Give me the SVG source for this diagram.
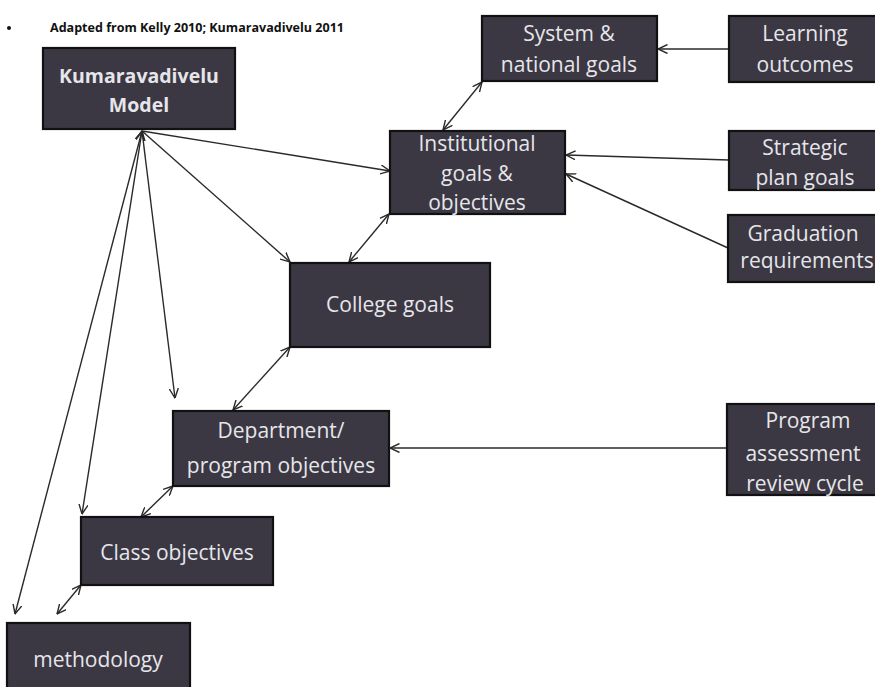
<svg xmlns="http://www.w3.org/2000/svg" width="875" height="687" viewBox="0 0 875 687">
<defs>
<marker id="ah" viewBox="0 0 10 10" refX="9.5" refY="5" markerWidth="10" markerHeight="10" markerUnits="userSpaceOnUse" orient="auto-start-reverse">
<path d="M0,0.5 L9.5,5 L0,9.5" fill="none" stroke="#2a2a2a" stroke-width="1.4"/>
</marker>
<style>
.box{fill:#3b3843;stroke:#111;stroke-width:2.2}
.t{font-family:"Open Sans","Liberation Sans",sans-serif;font-size:21px;fill:#e6e6ea;text-anchor:middle}
.tb{font-weight:bold;font-size:19.5px}
.c line{stroke:#2a2a2a;stroke-width:1.4;fill:none}
</style>
</defs>
<rect width="875" height="687" fill="#ffffff"/>
<g id="title">
<circle cx="9" cy="28" r="2" fill="#111"/>
<text x="50" y="32" font-family="'Open Sans','Liberation Sans',sans-serif" font-size="13" font-weight="bold" fill="#111" textLength="294" lengthAdjust="spacingAndGlyphs">Adapted from Kelly 2010; Kumaravadivelu 2011</text>
</g>
<g class="c" id="connectors">
<line x1="729" y1="49" x2="658" y2="49" marker-end="url(#ah)"/>
<line x1="729" y1="160" x2="566" y2="155" marker-end="url(#ah)"/>
<line x1="728" y1="248" x2="566" y2="174" marker-end="url(#ah)"/>
<line x1="727" y1="448" x2="390" y2="448" marker-end="url(#ah)"/>
<line x1="443" y1="130" x2="482" y2="82" marker-start="url(#ah)" marker-end="url(#ah)"/>
<line x1="349" y1="262" x2="389" y2="214" marker-start="url(#ah)" marker-end="url(#ah)"/>
<line x1="233" y1="410" x2="290" y2="347" marker-start="url(#ah)" marker-end="url(#ah)"/>
<line x1="141" y1="517" x2="173" y2="486" marker-start="url(#ah)" marker-end="url(#ah)"/>
<line x1="57" y1="614" x2="81" y2="585" marker-start="url(#ah)" marker-end="url(#ah)"/>
<line x1="142" y1="131" x2="390" y2="171" marker-end="url(#ah)"/>
<line x1="142" y1="131" x2="290" y2="262" marker-end="url(#ah)"/>
<line x1="142" y1="131" x2="175" y2="398" marker-end="url(#ah)"/>
<line x1="142" y1="131" x2="82" y2="514" marker-start="url(#ah)" marker-end="url(#ah)"/>
<line x1="142" y1="131" x2="15" y2="614" marker-start="url(#ah)" marker-end="url(#ah)"/>
</g>
<g id="kumaravadivelu">
<rect class="box" x="43" y="48" width="192" height="81"/>
<text class="t tb" x="139" y="83">Kumaravadivelu</text>
<text class="t tb" x="139" y="112">Model</text>
</g>
<g id="system">
<rect class="box" x="482" y="16" width="175" height="65"/>
<text class="t" x="569" y="41">System &amp;</text>
<text class="t" x="569" y="72">national goals</text>
</g>
<g id="learning">
<rect class="box" x="729" y="16" width="160" height="66"/>
<text class="t" x="805" y="41">Learning</text>
<text class="t" x="805" y="72">outcomes</text>
</g>
<g id="institutional">
<rect class="box" x="390" y="131" width="175" height="83"/>
<text class="t" x="477" y="151">Institutional</text>
<text class="t" x="477" y="181">goals &amp;</text>
<text class="t" x="477" y="210">objectives</text>
</g>
<g id="strategic">
<rect class="box" x="729" y="131" width="160" height="59"/>
<text class="t" x="805" y="155">Strategic</text>
<text class="t" x="805" y="185">plan goals</text>
</g>
<g id="graduation">
<rect class="box" x="728" y="215" width="160" height="67"/>
<text class="t" x="803" y="241">Graduation</text>
<text class="t" x="807" y="268">requirements</text>
</g>
<g id="college">
<rect class="box" x="290" y="263" width="200" height="84"/>
<text class="t" x="390" y="312">College goals</text>
</g>
<g id="department">
<rect class="box" x="173" y="411" width="216" height="75"/>
<text class="t" x="281" y="438">Department/</text>
<text class="t" x="281" y="473">program objectives</text>
</g>
<g id="program">
<rect class="box" x="727" y="404" width="160" height="91"/>
<text class="t" x="808" y="428">Program</text>
<text class="t" x="803" y="461">assessment</text>
<text class="t" x="805" y="491">review cycle</text>
</g>
<g id="class">
<rect class="box" x="81" y="517" width="192" height="68"/>
<text class="t" x="177" y="560">Class objectives</text>
</g>
<g id="methodology">
<rect class="box" x="7" y="623" width="183" height="80"/>
<text class="t" x="98" y="667">methodology</text>
</g>
</svg>
